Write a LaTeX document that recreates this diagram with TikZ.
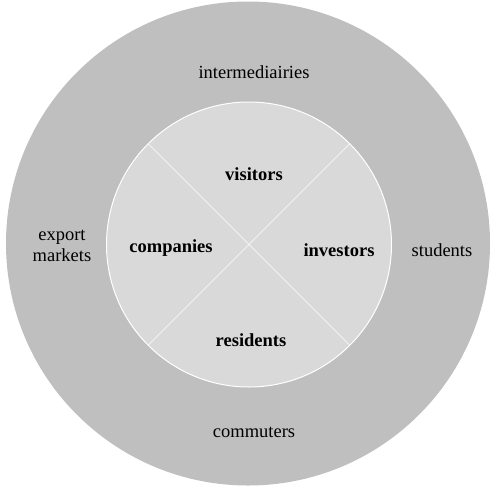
\documentclass[tikz,border=0pt]{standalone}
\usepackage{fontspec}
\setmainfont{Liberation Serif}
\definecolor{ringgray}{HTML}{BFBFBF}
\definecolor{coregray}{HTML}{D9D9D9}

\begin{document}
\begin{tikzpicture}[x=1pt,y=-1pt,
    outer/.style={font=\fontsize{18.5}{21}\selectfont, align=center},
    inner/.style={font=\fontsize{18.5}{21}\selectfont\bfseries}]
          \useasboundingbox (0, 0) rectangle (498, 493);
          \fill[ringgray] (248, 243.5) circle (242);
          \fill[coregray, draw=white, line width=1pt] (249, 244.5) circle (142.5);
          \draw[white] (148, 143.5) -- (350, 345.5);
          \draw[white] (350, 143.5) -- (148, 345.5);
          \node[outer] (intermediairies) at (254, 72) {intermediairies};
          \node[outer] (students) at (442, 250) {students};
          \node[outer] (export) at (62, 246) {export\\markets};
          \node[outer] (commuters) at (254, 432) {commuters};
          \node[inner] (visitors) at (254, 174) {visitors};
          \node[inner] (companies) at (171, 248) {companies};
          \node[inner] (investors) at (339, 250) {investors};
          \node[inner] (residents) at (251, 340) {residents};
    \end{tikzpicture}
\end{document}
